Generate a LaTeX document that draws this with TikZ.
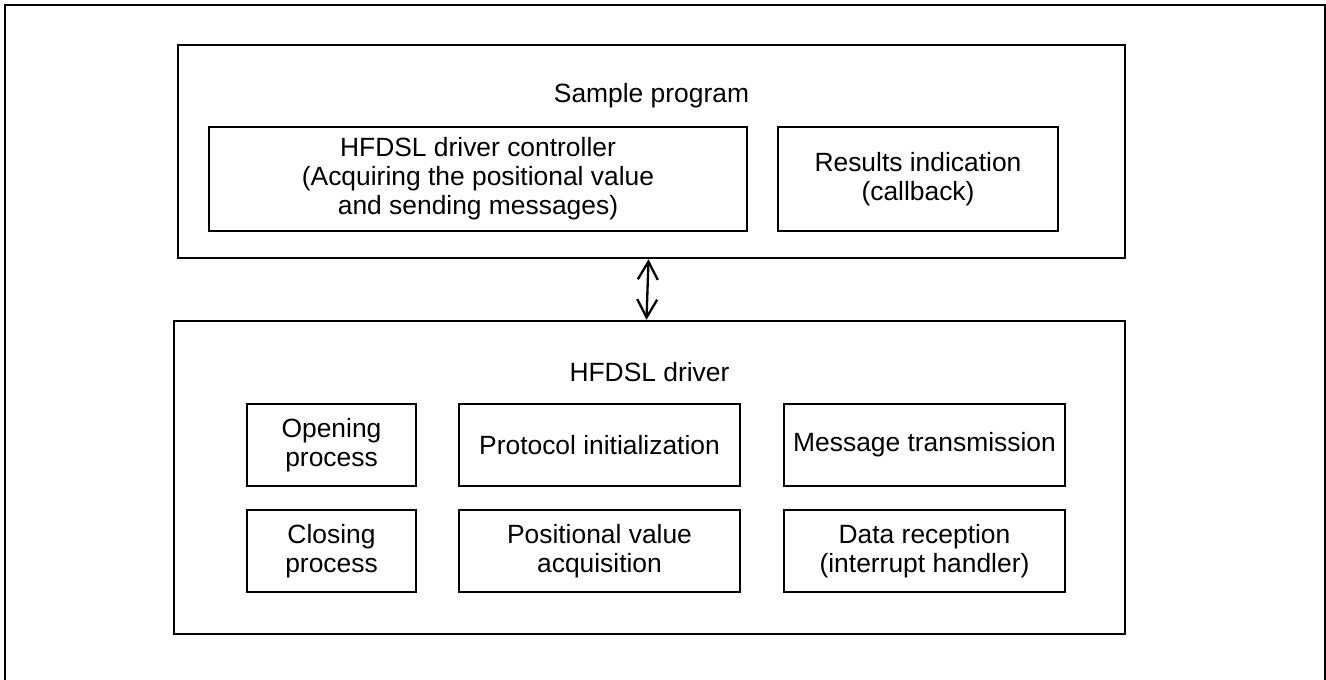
\documentclass[tikz,border=0pt]{standalone}
\usepackage{fontspec}
\setmainfont{Liberation Sans}
\usetikzlibrary{arrows.meta}
\begin{document}
\begin{tikzpicture}[x=1pt,y=-1pt,
  box/.style={draw, line width=2.5pt, inner sep=0pt, align=center,
    font=\fontsize{26.4}{29}\selectfont},
  title/.style={inner sep=0pt, font=\fontsize{26.4}{29}\selectfont},
  link/.style={line width=2.3pt, {Straight Barb[length=18pt,width=20pt]}-{Straight Barb[length=18pt,width=20pt]}}]
\useasboundingbox (0,0) rectangle (1326,680);
\fill[white] (0,0) rectangle (1326,680);
\draw[line width=2.5pt] (5,680) -- (5,5) -- (1325,5) -- (1325,680);

\node[box, minimum width=947pt, minimum height=213pt] (top) at (651.5,151.5) {};
\node[title] (toptitle) at (651.5,96) {Sample program};
\node[box, minimum width=538pt, minimum height=104pt] (ctrl) at (478,179)
  {HFDSL driver controller\\(Acquiring the positional value\\and sending messages)};
\node[box, minimum width=280pt, minimum height=104pt] (res) at (918,179)
  {Results indication\\(callback)};

\node[box, minimum width=951pt, minimum height=313pt] (bot) at (649.5,477.5) {};
\node[title] (bottitle) at (649.5,372) {HFDSL driver};

\node[box, minimum width=169pt, minimum height=82pt] (open) at (331.5,445) {Opening\\process};
\node[box, minimum width=281pt, minimum height=82pt] (proto) at (599.5,445) {Protocol initialization};
\node[box, minimum width=281pt, minimum height=82pt] (msg) at (924.5,445) {Message transmission};
\node[box, minimum width=169pt, minimum height=82pt] (close) at (331.5,551) {Closing\\process};
\node[box, minimum width=281pt, minimum height=82pt] (pos) at (599.5,551) {Positional value\\acquisition};
\node[box, minimum width=281pt, minimum height=82pt] (data) at (924.5,551) {Data reception\\(interrupt handler)};

\coordinate (a1) at (top.south -| 648.5,0);
\coordinate (a2) at (bot.north -| 646.5,0);
\draw[link] (a1) -- (a2);
\end{tikzpicture}
\end{document}
